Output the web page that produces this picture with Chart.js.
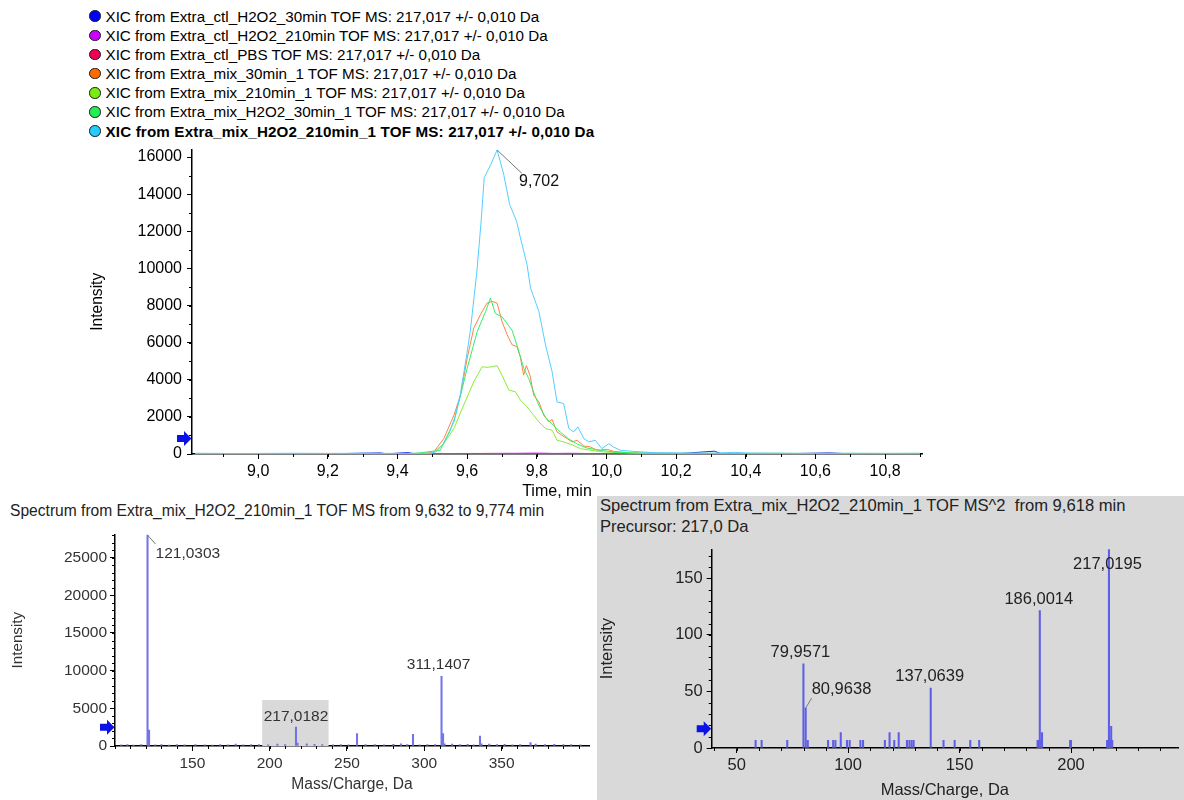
<!DOCTYPE html>
<html>
<head>
<meta charset="utf-8">
<script src="https://cdn.jsdelivr.net/npm/chart.js@4.4.1/dist/chart.umd.min.js"></script>
<style>
  body { margin: 0; width: 1184px; height: 800px; position: relative; overflow: hidden; background: #fff;
         font-family: "Liberation Sans", Arial, sans-serif; }
  .abs { position: absolute; }
  .row { height: 19.17px; display: flex; align-items: center; font-size: 15.2px; color: #000; white-space: nowrap; }
  .dot { width: 11.5px; height: 11.5px; border-radius: 50%; border: 1px solid #1a1a1a; box-sizing: border-box; margin-right: 5px; }
  #panel { left: 597px; top: 496px; width: 587px; height: 304px; background: #d9d9d9; }
  .title { white-space: pre; color: #111; }
</style>
</head>
<body>
<div id="legend" class="abs" style="left:89px;top:6.6px"></div>
<div id="panel" class="abs"></div>
<div class="abs title" style="left:10px;top:502px;font-size:15.6px;color:#222">Spectrum from Extra_mix_H2O2_210min_1 TOF MS from 9,632 to 9,774 min</div>
<div class="abs title" style="left:600px;top:495px;font-size:16.6px;line-height:21px;color:#222">Spectrum from Extra_mix_H2O2_210min_1 TOF MS^2  from 9,618 min
Precursor: 217,0 Da</div>
<canvas id="xic" class="abs" width="856" height="369" style="left:84px;top:135px"></canvas>
<canvas id="ms1" class="abs" width="590" height="278" style="left:5px;top:522px"></canvas>
<canvas id="ms2" class="abs" width="587" height="270" style="left:597px;top:530px"></canvas>
<script>
// ---- XIC traces (time in min, intensity) ----
const SERIES_NAMES = [
  'XIC from Extra_ctl_H2O2_30min TOF MS: 217,017 +/- 0,010 Da',
  'XIC from Extra_ctl_H2O2_210min TOF MS: 217,017 +/- 0,010 Da',
  'XIC from Extra_ctl_PBS TOF MS: 217,017 +/- 0,010 Da',
  'XIC from Extra_mix_30min_1 TOF MS: 217,017 +/- 0,010 Da',
  'XIC from Extra_mix_210min_1 TOF MS: 217,017 +/- 0,010 Da',
  'XIC from Extra_mix_H2O2_30min_1 TOF MS: 217,017 +/- 0,010 Da',
  'XIC from Extra_mix_H2O2_210min_1 TOF MS: 217,017 +/- 0,010 Da'
];
const DOT_COLORS = ['#0000ff', '#cc00ff', '#ee0055', '#ff6a00', '#77ee11', '#22ee55', '#22ccff'];
const LINE_COLORS = ['#2222ee', '#cc22ee', '#ee3377', '#ff8444', '#88ee33', '#33ee66', '#55ccff'];

const BLUE_T = [8.82, 9.0, 9.2, 9.35, 9.37, 9.43, 9.45, 9.6, 9.8, 10.0, 10.2, 10.31, 10.33, 10.5, 10.64, 10.7, 10.9];
const BLUE_I = [10, 10, 10, 60, 10, 80, 10, 10, 20, 10, 10, 150, 10, 10, 60, 10, 10];
const PURPLE_T = [8.82, 9.5, 9.75, 9.8, 9.85, 9.9, 10.0, 10.5, 10.9];
const PURPLE_I = [10, 10, 40, 50, 30, 40, 10, 10, 10];
const PINK_T = [8.82, 9.5, 9.6, 9.7, 9.8, 10.0, 10.9];
const PINK_I = [0, 20, 30, 30, 20, 10, 0];
const ORANGE_T = [8.82, 9.0, 9.2, 9.3, 9.4, 9.466, 9.49, 9.504, 9.533, 9.562, 9.581, 9.6, 9.619, 9.638, 9.657, 9.672,
  9.686, 9.7, 9.715, 9.729, 9.743, 9.753, 9.762, 9.77, 9.781, 9.791, 9.806, 9.82, 9.834, 9.844, 9.858, 9.872, 9.887,
  9.901, 9.916, 9.935, 9.954, 9.973, 10.002, 10.021, 10.059, 10.1, 10.3, 10.5, 10.7, 10.9];
const ORANGE_I = [20, 20, 30, 20, 20, 30, 60, 110, 830, 2090, 3170, 5150, 6780, 7500, 8130, 8220,
  8130, 7140, 6420, 5880, 5790, 5200, 4250, 4760, 4200, 3170, 2810, 2090, 1730, 1860, 1190, 1010, 830,
  650, 740, 430, 380, 200, 250, 140, 70, 40, 20, 30, 20, 20];
const LIME_T = [8.82, 9.2, 9.4, 9.5, 9.533, 9.562, 9.59, 9.619, 9.643, 9.657, 9.672, 9.686, 9.7, 9.72, 9.739, 9.753,
  9.772, 9.791, 9.806, 9.825, 9.844, 9.858, 9.877, 9.901, 9.925, 9.954, 9.992, 10.04, 10.1, 10.3, 10.5, 10.7, 10.9];
const LIME_I = [20, 20, 20, 40, 560, 1370, 2630, 3890, 4700, 4670, 4700, 4760, 4250, 3440, 3350, 2900,
  2540, 2090, 1730, 1370, 1280, 740, 650, 500, 290, 200, 110, 70, 40, 30, 20, 30, 30];
const GREEN_T = [8.82, 9.1, 9.3, 9.45, 9.523, 9.562, 9.6, 9.629, 9.653, 9.667, 9.681, 9.7, 9.729, 9.743, 9.763, 9.777,
  9.791, 9.806, 9.825, 9.844, 9.868, 9.892, 9.916, 9.944, 9.983, 10.021, 10.08, 10.2, 10.4, 10.6, 10.8, 10.9];
const GREEN_I = [20, 20, 20, 30, 200, 1730, 4610, 6600, 7680, 8400, 7570, 7390, 6670, 5860, 4600, 4060,
  3330, 2610, 1980, 1620, 1170, 810, 540, 320, 200, 110, 60, 30, 40, 30, 30, 30];
const CYAN_T = [8.82, 8.9, 9.0, 9.1, 9.2, 9.3, 9.4, 9.45, 9.49, 9.51, 9.53, 9.55, 9.565, 9.58, 9.595, 9.609, 9.628,
  9.64, 9.649, 9.668, 9.686, 9.705, 9.722, 9.742, 9.753, 9.772, 9.782, 9.806, 9.825, 9.844, 9.858, 9.877, 9.892,
  9.906, 9.918, 9.935, 9.949, 9.968, 9.987, 10.007, 10.02, 10.04, 10.078, 10.136, 10.2, 10.3, 10.37, 10.4, 10.5,
  10.6, 10.7, 10.8, 10.9];
const CYAN_I = [40, 30, 30, 40, 30, 40, 30, 40, 30, 110, 500, 1200, 2000, 3170, 4900, 6600, 9840,
  12500, 14885, 15600, 16380, 15065, 13440, 12540, 11640, 10200, 8940, 7680, 5880, 4430, 2810, 2720, 1370,
  1190, 1460, 830, 650, 740, 290, 560, 380, 200, 140, 70, 60, 40, 90, 50, 40,
  30, 40, 30, 40];
const TRACE_T = [BLUE_T, PURPLE_T, PINK_T, ORANGE_T, LIME_T, GREEN_T, CYAN_T];
const TRACE_I = [BLUE_I, PURPLE_I, PINK_I, ORANGE_I, LIME_I, GREEN_I, CYAN_I];
const TIME_TICKS = [9.0, 9.2, 9.4, 9.6, 9.8, 10.0, 10.2, 10.4, 10.6, 10.8];
const XIC_Y_TICKS = [0, 2000, 4000, 6000, 8000, 10000, 12000, 14000, 16000];
const APEX_TEXT = '9,702';

// ---- TOF MS spectrum (m/z, intensity) ----
const MS1_MZ = [104, 108, 112, 117, 121.0303, 122.03, 126, 130, 135, 140, 145, 152, 158, 163, 168, 173, 178, 183, 188,
  193, 199, 205, 210, 217.0182, 218.02, 224, 229, 234, 241, 246, 251, 256.5, 262, 268, 274, 280, 285, 289, 292.7,
  297, 302, 307, 311.1407, 312.14, 313.1, 318, 323, 328, 332, 336.0, 337, 342, 347, 352, 357, 362, 368.7, 372, 378,
  384, 390, 395, 401];
const MS1_INT = [150, 200, 120, 180, 28000, 2100, 150, 200, 120, 180, 150, 200, 150, 120, 200, 150, 250, 150, 200,
  180, 150, 250, 200, 2520, 400, 300, 220, 200, 150, 200, 150, 1640, 180, 200, 150, 220, 300, 200, 1550,
  150, 200, 180, 9240, 1640, 300, 250, 200, 220, 150, 1330, 300, 250, 180, 220, 150, 200, 440, 250, 200,
  220, 180, 200, 150];
const MS1_LABELED = [121.0303, 217.0182, 311.1407];
const MS1_BOX = [195.2, 238.1, 6100];   // highlighted m/z window and its height
const MS1_X_TICKS = [150, 200, 250, 300, 350];
const MS1_Y_TICKS = [0, 5000, 10000, 15000, 20000, 25000];

// ---- TOF MS^2 spectrum ----
const MS2_MZ = [58.5, 61.2, 72.7, 79.9571, 80.9638, 81.9, 91.0, 93.3, 94.3, 96.7, 99.5, 100.7, 105.5, 106.7, 116.5,
  118.6, 120.7, 122.7, 126.4, 127.5, 128.5, 129.4, 137.0639, 142.8, 147.8, 154.8, 158.8, 185.0, 185.5, 186.0014,
  186.6, 187.0, 199.6, 200.0, 216.2, 216.6, 217.0195, 217.5, 218.02, 218.5];
const MS2_INT = [6.8, 6.8, 6.8, 74.4, 35.3, 6.8, 6.8, 6.8, 6.8, 13.6, 6.8, 6.8, 6.8, 6.8, 6.8,
  13.6, 6.8, 13.6, 6.8, 6.8, 6.8, 6.8, 52.9, 6.8, 6.8, 6.8, 6.8, 6.8, 6.8, 121.4,
  6.8, 13.6, 6.8, 6.8, 6.8, 6.8, 175.5, 6.8, 19.1, 6.8];
const MS2_LABELED = [79.9571, 80.9638, 137.0639, 186.0014, 217.0195];
const MS2_X_TICKS = [50, 100, 150, 200];
const MS2_Y_TICKS = [0, 50, 100, 150];

const FONT = '"Liberation Sans", Arial, sans-serif';
const fmtComma = (v, d) => v.toFixed(d).replace('.', ',');

// legend
const legend = document.getElementById('legend');
SERIES_NAMES.forEach((name, i) => {
  const row = document.createElement('div');
  row.className = 'row';
  if (i === SERIES_NAMES.length - 1) { row.style.fontWeight = 'bold'; row.style.letterSpacing = '0.15px'; }
  const dot = document.createElement('span');
  dot.className = 'dot';
  dot.style.background = DOT_COLORS[i];
  row.appendChild(dot);
  row.appendChild(document.createTextNode(name));
  legend.appendChild(row);
});

// blue arrow, minor ticks, peak labels
function decorPlugin(cfg) {
  return {
    id: 'decor',
    beforeDatasetsDraw(chart) {
      if (!cfg.box) return;
      const { ctx, scales: { x, y } } = chart;
      const x0 = x.getPixelForValue(cfg.box[0]), x1 = x.getPixelForValue(cfg.box[1]);
      const y0 = y.getPixelForValue(cfg.box[2]), yb = y.getPixelForValue(0);
      ctx.save();
      ctx.fillStyle = '#d9d9d9';
      ctx.fillRect(x0, y0, x1 - x0, yb - y0);
      ctx.restore();
    },
    afterDraw(chart) {
      const { ctx, chartArea: a, scales: { x, y } } = chart;
      ctx.save();
      // minor ticks
      ctx.strokeStyle = '#000';
      ctx.lineWidth = 1;
      ctx.beginPath();
      for (let k = Math.ceil(x.min / cfg.xMinor); k * cfg.xMinor <= x.max; k++) {
        const px = Math.round(x.getPixelForValue(k * cfg.xMinor)) + 0.5;
        ctx.moveTo(px, a.bottom);
        ctx.lineTo(px, a.bottom + 3);
      }
      for (let k = 0; k * cfg.yMinor <= y.max; k++) {
        const py = Math.round(y.getPixelForValue(k * cfg.yMinor)) + 0.5;
        ctx.moveTo(a.left, py);
        ctx.lineTo(a.left - 3, py);
      }
      ctx.stroke();
      // arrow marker
      const yc = y.getPixelForValue(cfg.arrow), xr = a.left;
      ctx.fillStyle = '#0a12e6';
      ctx.beginPath();
      ctx.moveTo(xr - 15, yc - 3.5);
      ctx.lineTo(xr - 8, yc - 3.5);
      ctx.lineTo(xr - 8, yc - 7.5);
      ctx.lineTo(xr - 0.5, yc);
      ctx.lineTo(xr - 8, yc + 7.5);
      ctx.lineTo(xr - 8, yc + 3.5);
      ctx.lineTo(xr - 15, yc + 3.5);
      ctx.closePath();
      ctx.fill();
      // labels
      ctx.font = cfg.labelFont + 'px ' + FONT;
      ctx.textBaseline = 'middle';
      cfg.labels.forEach(l => {
        const px = x.getPixelForValue(l.x), py = y.getPixelForValue(l.y);
        if (l.lead) {
          ctx.strokeStyle = '#777';
          ctx.lineWidth = 1;
          ctx.beginPath();
          ctx.moveTo(px, py);
          ctx.lineTo(px + l.lead[0], py + l.lead[1]);
          ctx.stroke();
        }
        ctx.fillStyle = cfg.labelColor;
        ctx.textAlign = l.align || 'center';
        ctx.fillText(l.text, px + l.dx, py + l.dy);
      });
      ctx.restore();
    }
  };
}

function axisSet(o) {
  return {
    type: 'linear', min: o.min, max: o.max, offset: false,
    afterFit: s => { if (o.width) s.width = o.width; if (o.height) s.height = o.height; },
    afterBuildTicks: s => { s.ticks = o.ticks.map(v => ({ value: v })); },
    border: { display: true, color: '#000', width: 1.5 },
    grid: { display: true, drawOnChartArea: false, offset: false, tickLength: 5, tickColor: '#000', tickWidth: 1 },
    ticks: { color: o.color, font: { family: FONT, size: o.font }, padding: o.pad, maxRotation: 0, autoSkip: false,
             callback: o.cb || (v => String(v)) },
    title: { display: true, text: o.title, color: o.color, font: { family: FONT, size: o.titleFont },
             padding: o.titlePad }
  };
}

// ---- XIC chart ----
const order = [6, 5, 4, 3, 2, 1, 0];
const xicSets = TRACE_T.map((ts, i) => ({
  label: SERIES_NAMES[i],
  data: ts.map((t, j) => ({ x: t, y: TRACE_I[i][j] })),
  borderColor: LINE_COLORS[i],
  borderWidth: 1,
  pointRadius: 0,
  tension: 0,
  order: order[i]
}));
const cyanIdx = CYAN_I.indexOf(Math.max(...CYAN_I));
new Chart(document.getElementById('xic'), {
  type: 'line',
  data: { datasets: xicSets },
  options: {
    responsive: false, animation: false, events: [],
    layout: { padding: { left: 0, top: 5, right: 18, bottom: 0 } },
    plugins: { legend: { display: false }, tooltip: { enabled: false } },
    scales: {
      x: axisSet({ min: 8.81, max: 10.906, height: 50, ticks: TIME_TICKS, color: '#000', font: 16, pad: 3,
                   cb: v => fmtComma(v, 1), title: 'Time, min', titleFont: 16, titlePad: { top: 0, bottom: 3 } }),
      y: axisSet({ min: 0, max: 16400, width: 108, ticks: XIC_Y_TICKS, color: '#000', font: 16, pad: 5,
                   title: 'Intensity', titleFont: 15.6, titlePad: { top: 4, bottom: 0 } })
    }
  },
  plugins: [decorPlugin({
    xMinor: 0.1, yMinor: 1000, arrow: 838, labelFont: 16, labelColor: '#111',
    labels: [{ x: CYAN_T[cyanIdx], y: CYAN_I[cyanIdx], text: APEX_TEXT, align: 'left', dx: 22, dy: 32, lead: [24.7, 23.3] }]
  })]
});

// ---- MS spectrum ----
const ms1Int = mz => MS1_INT[MS1_MZ.indexOf(mz)];
const ms1Offsets = [
  { align: 'left', dx: 8, dy: 19, lead: [8, 9] },
  { dx: 0, dy: -10 },
  { dx: -3, dy: -12 }
];
new Chart(document.getElementById('ms1'), {
  type: 'bar',
  data: { datasets: [{ data: MS1_MZ.map((m, i) => ({ x: m, y: MS1_INT[i] })), backgroundColor: '#7474e8',
                       barThickness: 1.4, grouped: false }] },
  options: {
    responsive: false, animation: false, events: [],
    layout: { padding: { left: 0, top: 6.5, right: 6, bottom: 2 } },
    plugins: { legend: { display: false }, tooltip: { enabled: false } },
    scales: {
      x: axisSet({ min: 100, max: 406.5, height: 52, ticks: MS1_X_TICKS, color: '#333', font: 15.5, pad: 3,
                   title: 'Mass/Charge, Da', titleFont: 15.6, titlePad: { top: 0, bottom: 4 } }),
      y: axisSet({ min: 0, max: 28100, width: 110, ticks: MS1_Y_TICKS, color: '#333', font: 15.5, pad: 3,
                   title: 'Intensity', titleFont: 15.2, titlePad: { top: 4, bottom: 0 } })
    }
  },
  plugins: [decorPlugin({
    xMinor: 10, yMinor: 1000, arrow: 2480, labelFont: 15.5, labelColor: '#333', box: MS1_BOX,
    labels: MS1_LABELED.map((m, i) => Object.assign({ x: m, y: ms1Int(m), text: fmtComma(m, 4) }, ms1Offsets[i]))
  })]
});

// ---- MS^2 spectrum ----
const ms2Int = mz => MS2_INT[MS2_MZ.indexOf(mz)];
const ms2Offsets = [
  { dx: -3, dy: -11 },
  { align: 'left', dx: 6, dy: -19, lead: [6, -10] },
  { dx: -1, dy: -12 },
  { dx: -1, dy: -11 },
  { dx: -1.5, dy: 15 }
];
new Chart(document.getElementById('ms2'), {
  type: 'bar',
  data: { datasets: [{ data: MS2_MZ.map((m, i) => ({ x: m, y: MS2_INT[i] })), backgroundColor: '#5e5ee6',
                       barThickness: 1.4, grouped: false }] },
  options: {
    responsive: false, animation: false, events: [],
    layout: { padding: { left: 0, top: 19.3, right: 6, bottom: 0 } },
    plugins: { legend: { display: false }, tooltip: { enabled: false } },
    scales: {
      x: axisSet({ min: 38.8, max: 248, height: 52, ticks: MS2_X_TICKS, color: '#222', font: 16.5, pad: 3,
                   title: 'Mass/Charge, Da', titleFont: 16.5, titlePad: { top: 0, bottom: 0 } }),
      y: axisSet({ min: 0, max: 175.6, width: 114.7, ticks: MS2_Y_TICKS, color: '#222', font: 16.5, pad: 4,
                   title: 'Intensity', titleFont: 16.5, titlePad: { top: 1, bottom: 0 } })
    }
  },
  plugins: [decorPlugin({
    xMinor: 10, yMinor: 10, arrow: 17, labelFont: 16.5, labelColor: '#222',
    labels: MS2_LABELED.map((m, i) => Object.assign({ x: m, y: ms2Int(m), text: fmtComma(m, 4) }, ms2Offsets[i]))
  })]
});
</script>
</body>
</html>
